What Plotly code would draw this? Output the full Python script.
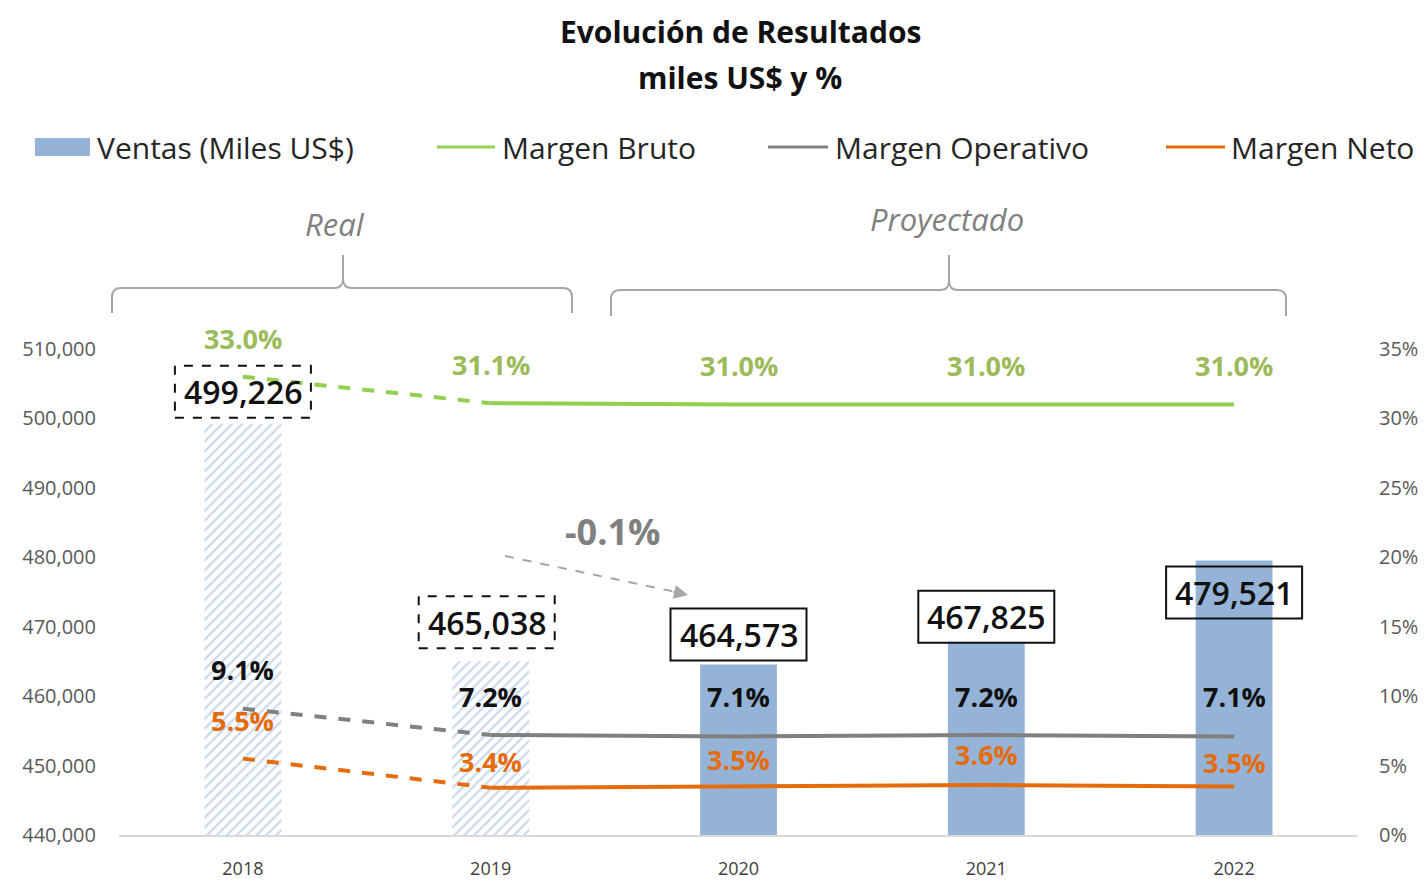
import plotly.graph_objects as go

# ---------------- data ----------------
years = ["2018", "2019", "2020", "2021", "2022"]
ventas = [499226, 465038, 464573, 467825, 479521]
margen_bruto = [33.0, 31.1, 31.0, 31.0, 31.0]
margen_operativo = [9.1, 7.2, 7.1, 7.2, 7.1]
margen_neto = [5.5, 3.4, 3.5, 3.6, 3.5]
is_real = [True, True, False, False, False]
left_ticks = [440000, 450000, 460000, 470000, 480000, 490000, 500000, 510000]
right_ticks = [0, 5, 10, 15, 20, 25, 30, 35]
variacion_text = "-0.1%"

# ---------------- style ----------------
OFF = 8                      # page body margin
W, H = 1427 - OFF, 885 - OFF
PL, PR, PT, PB = 119, 1358, 349, 835   # plot area in page pixels
L, T = PL - OFF, PT - OFF
R = W - L - (PR - PL)
B = H - T - (PB - PT)
FONT = "Open Sans"
BLUE = "#95B3D7"
HATCH = "#C6D7EC"
GREEN = "#92D050"
GREEN_TXT = "#9BBB59"
GRAY = "#808080"
ORANGE = "#E46C0A"


def px(X):
    return (X - PL) / (PR - PL)


def py(Y):
    return (PB - Y) / (PB - PT)


def P(X, Y):
    return f"{px(X):.5f},{py(Y):.5f}"


fig = go.Figure()

# bars
fig.add_trace(go.Bar(
    x=years, y=ventas, width=0.31, showlegend=False,
    marker=dict(
        color=[HATCH if r else BLUE for r in is_real],
        line=dict(width=0),
        pattern=dict(shape=["/" if r else "" for r in is_real],
                     fgcolor=HATCH, bgcolor="white", size=7, solidity=0.3,
                     fillmode="replace"),
    ),
    hoverinfo="skip",
))


def add_line(vals, color):
    fig.add_trace(go.Scatter(x=years[:2], y=vals[:2], yaxis="y2", mode="lines",
                             line=dict(color=color, width=4, dash="dash"),
                             showlegend=False, hoverinfo="skip"))
    fig.add_trace(go.Scatter(x=years[1:], y=vals[1:], yaxis="y2", mode="lines",
                             line=dict(color=color, width=4),
                             showlegend=False, hoverinfo="skip"))


add_line(margen_bruto, GREEN)
add_line(margen_operativo, GRAY)
add_line(margen_neto, ORANGE)

ann = []
shapes = []

# percentage labels
lab_specs = [
    (margen_bruto, GREEN_TXT, [38, 39, 39, 39, 39]),
    (margen_operativo, "#111111", [39, 39, 40, 39, 40]),
    (margen_neto, ORANGE, [38, 26, 27, 31, 24]),
]
for vals, col, offs in lab_specs:
    for i, v in enumerate(vals):
        ann.append(dict(x=i, y=v, xref="x", yref="y2", yshift=offs[i],
                        xanchor="center", yanchor="middle",
                        text=f"{v:.1f}%", showarrow=False,
                        font=dict(family=FONT, size=27, color=col, weight="bold")))

# value boxes
box_offs = [32, 39, 30, 25, -32]
box_dx = [0, -4, 0, 0, 0]
for i, v in enumerate(ventas):
    shapes.append(dict(type="rect", xref="x", yref="y",
                       xsizemode="pixel", ysizemode="pixel",
                       xanchor=i, yanchor=v,
                       x0=box_dx[i] - 68, x1=box_dx[i] + 68,
                       y0=box_offs[i] - 26, y1=box_offs[i] + 26,
                       line=dict(color="#111111", width=2,
                                 dash="dash" if is_real[i] else "solid"),
                       fillcolor="rgba(255,255,255,0)"))
    ann.append(dict(x=i, y=v, xref="x", yref="y", yshift=box_offs[i], xshift=box_dx[i],
                    xanchor="center", yanchor="middle",
                    text=f"{v:,}", showarrow=False,
                    font=dict(family=FONT, size=32, color="#111111", weight=600)))

# title
ann.append(dict(x=px(740), y=py(8.5), xref="paper", yref="paper", showarrow=False,
                xanchor="center", yanchor="top", text="Evolución de Resultados",
                font=dict(family=FONT, size=30, color="#111111", weight="bold")))
ann.append(dict(x=px(740), y=py(77), xref="paper", yref="paper", showarrow=False,
                xanchor="center", yanchor="middle", text="miles US$ y %",
                font=dict(family=FONT, size=30, color="#111111", weight="bold")))

# custom legend
shapes.append(dict(type="rect", xref="paper", yref="paper",
                   x0=px(35), x1=px(90), y0=py(156), y1=py(138),
                   fillcolor=BLUE, line=dict(width=0)))
for x0, x1, col in [(437, 495, GREEN), (768, 828, GRAY), (1166, 1225, ORANGE)]:
    shapes.append(dict(type="line", xref="paper", yref="paper",
                       x0=px(x0), x1=px(x1), y0=py(147), y1=py(147),
                       line=dict(color=col, width=3)))
for xt, t in [(95, "Ventas (Miles US$)"), (500, "Margen Bruto"),
              (833, "Margen Operativo"), (1229, "Margen Neto")]:
    ann.append(dict(x=px(xt), y=py(147), xref="paper", yref="paper", showarrow=False,
                    xanchor="left", yanchor="middle", text=t,
                    font=dict(family=FONT, size=30, color="#262626")))

# brackets
def bracket(xl, xr, xm, yh, yb, yt):
    r = 9
    return (f"M {P(xl, yb)} L {P(xl, yh + r)} Q {P(xl, yh)} {P(xl + r, yh)} "
            f"L {P(xm - r, yh)} Q {P(xm, yh)} {P(xm, yh - r)} L {P(xm, yt)} "
            f"M {P(xm, yh - r)} Q {P(xm, yh)} {P(xm + r, yh)} "
            f"L {P(xr - r, yh)} Q {P(xr, yh)} {P(xr, yh + r)} L {P(xr, yb)}")


shapes.append(dict(type="path", xref="paper", yref="paper",
                   path=bracket(112, 572, 343, 288, 313, 255),
                   line=dict(color="#A6A6A6", width=2)))
shapes.append(dict(type="path", xref="paper", yref="paper",
                   path=bracket(611, 1286, 949, 290, 316, 255),
                   line=dict(color="#A6A6A6", width=2)))
ann.append(dict(x=px(335), y=py(224), xref="paper", yref="paper", showarrow=False,
                xanchor="center", yanchor="middle",
                text="<i>Real</i>", font=dict(family=FONT, size=31, color=GRAY)))
ann.append(dict(x=px(947), y=py(219), xref="paper", yref="paper", showarrow=False,
                xanchor="center", yanchor="middle",
                text="<i>Proyectado</i>", font=dict(family=FONT, size=31, color=GRAY)))

# variation arrow
ann.append(dict(x=px(612), y=py(531), xref="paper", yref="paper", showarrow=False,
                xanchor="center", yanchor="middle",
                text=variacion_text,
                font=dict(family=FONT, size=36, color=GRAY, weight="bold")))
shapes.append(dict(type="line", xref="paper", yref="paper",
                   x0=px(505), y0=py(556), x1=px(676), y1=py(592),
                   line=dict(color="#A6A6A6", width=2, dash="dash")))
ann.append(dict(x=px(688), y=py(595), xref="paper", yref="paper", showarrow=True,
                ax=-16, ay=-3.5, arrowhead=2, arrowsize=1.4, arrowwidth=2,
                arrowcolor="#A6A6A6", text=""))

fig.update_layout(
    width=W, height=H,
    margin=dict(l=L, r=R, t=T, b=B, autoexpand=False),
    paper_bgcolor="white", plot_bgcolor="white",
    font=dict(family=FONT),
    xaxis=dict(type="category", categoryorder="array", categoryarray=years,
               range=[-0.5, 4.5], showline=True, linecolor="#D9D9D9", linewidth=1.5,
               showgrid=False, ticks="", ticklabelstandoff=17, automargin=False,
               tickfont=dict(family=FONT, size=18, color="#404040")),
    yaxis=dict(range=[440000, 510000], tickvals=left_ticks, tickformat=",",
               showgrid=False, zeroline=False, showline=False, ticks="",
               ticklabelstandoff=22, automargin=False,
               tickfont=dict(family=FONT, size=20, color="#595959")),
    yaxis2=dict(range=[0, 35], tickvals=right_ticks,
                ticktext=[f"{v}%" for v in right_ticks], overlaying="y",
                side="right", showgrid=False, zeroline=False, showline=False, ticks="",
                ticklabelstandoff=20, automargin=False,
                tickfont=dict(family=FONT, size=20, color="#595959")),
    annotations=ann,
    shapes=shapes,
)

fig.write_html("out.html")
